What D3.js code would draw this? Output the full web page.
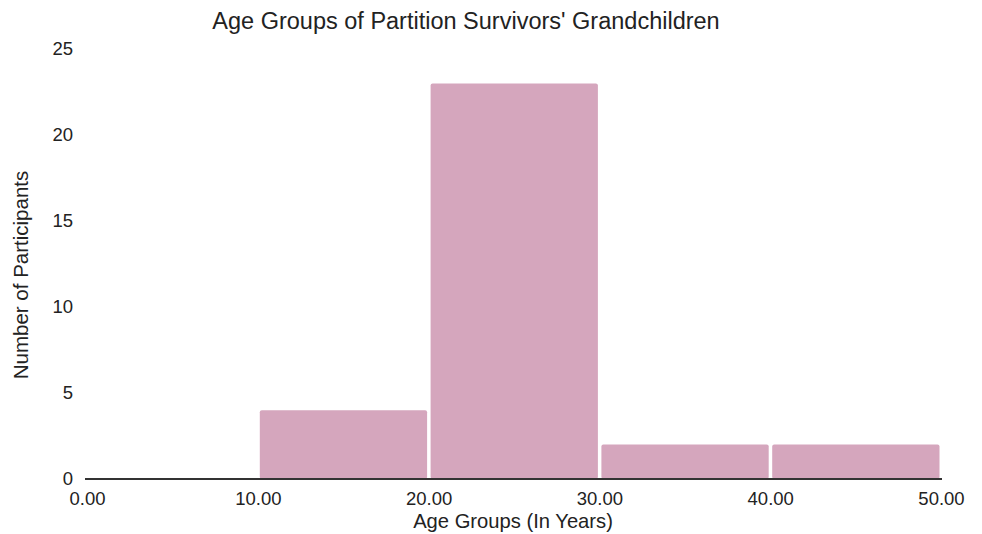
<!DOCTYPE html>
<html>
<head>
<meta charset="utf-8">
<script src="https://cdn.jsdelivr.net/npm/d3@7"></script>
<style>
  body { margin: 0; background: #fff; }
  text { font-family: "Liberation Sans", Arial, sans-serif; fill: #222; }
</style>
</head>
<body>
<div id="chart"></div>
<script>
/* Histogram of grandchildren age groups */

const binStarts = [10, 20, 30, 40];
const binEnds = [20, 30, 40, 50];
const counts = [4, 23, 2, 2];
const xTicks = [0, 10, 20, 30, 40, 50];
const yTicks = [0, 5, 10, 15, 20, 25];

const data = binStarts.map((s, i) => ({ x0: s, x1: binEnds[i], n: counts[i] }));

const width = 982,
      height = 534,
      margin = ({ top: 49, right: 41, bottom: 55, left: 87 });

let svg = d3.select("#chart")
    .append("svg")
    .attr("width", width)
    .attr("height", height);

let x = d3.scaleLinear()
    .domain([0, 50])
    .range([margin.left, width - margin.right]);

let y = d3.scaleLinear()
    .domain([0, 25])
    .range([height - margin.bottom, margin.top]);

// bars, inset a bit so white gaps show between them
svg.selectAll(".bar")
    .data(data)
    .join("rect")
    .attr("class", "bar")
    .attr("fill", "#d5a6bd")
    .attr("x", d => x(d.x0) + 2)
    .attr("width", d => x(d.x1) - x(d.x0) - 3.5)
    .attr("y", d => y(d.n))
    .attr("height", d => y(0) - y(d.n))
    .attr("rx", 2);

// x axis
const xAxis = g => g
    .attr("transform", `translate(0,${y(0)})`)
    .call(d3.axisBottom(x).tickValues(xTicks).tickFormat(d3.format(".2f")).tickSize(0).tickPadding(13))
    .call(g => g.select(".domain").attr("d", `M${x(0) - 2},0H${x(50) + 1}`)
        .attr("stroke", "#333").attr("stroke-width", 2))
    .call(g => g.selectAll("text").attr("font-size", 18.5).attr("fill", "#222")
        .attr("font-family", "Liberation Sans, Arial, sans-serif"));

// y axis, no line
const yAxis = g => g
    .attr("transform", `translate(${margin.left - 14},0)`)
    .call(d3.axisLeft(y).tickValues(yTicks).tickSize(0).tickPadding(0))
    .call(g => g.select(".domain").remove())
    .call(g => g.selectAll("text").attr("font-size", 18.5).attr("fill", "#222")
        .attr("font-family", "Liberation Sans, Arial, sans-serif"));

svg.append("g").call(xAxis);
svg.append("g").call(yAxis);

// title
svg.append("text")
    .text("Age Groups of Partition Survivors' Grandchildren")
    .attr("x", 466)
    .attr("y", 29)
    .attr("text-anchor", "middle")
    .attr("font-size", 23.5);

// axis titles
svg.append("text")
    .text("Age Groups (In Years)")
    .attr("x", 513)
    .attr("y", 528)
    .attr("text-anchor", "middle")
    .attr("font-size", 20.2);

svg.append("text")
    .text("Number of Participants")
    .attr("transform", "translate(28,275) rotate(-90)")
    .attr("text-anchor", "middle")
    .attr("font-size", 20.5);
</script>
</body>
</html>
